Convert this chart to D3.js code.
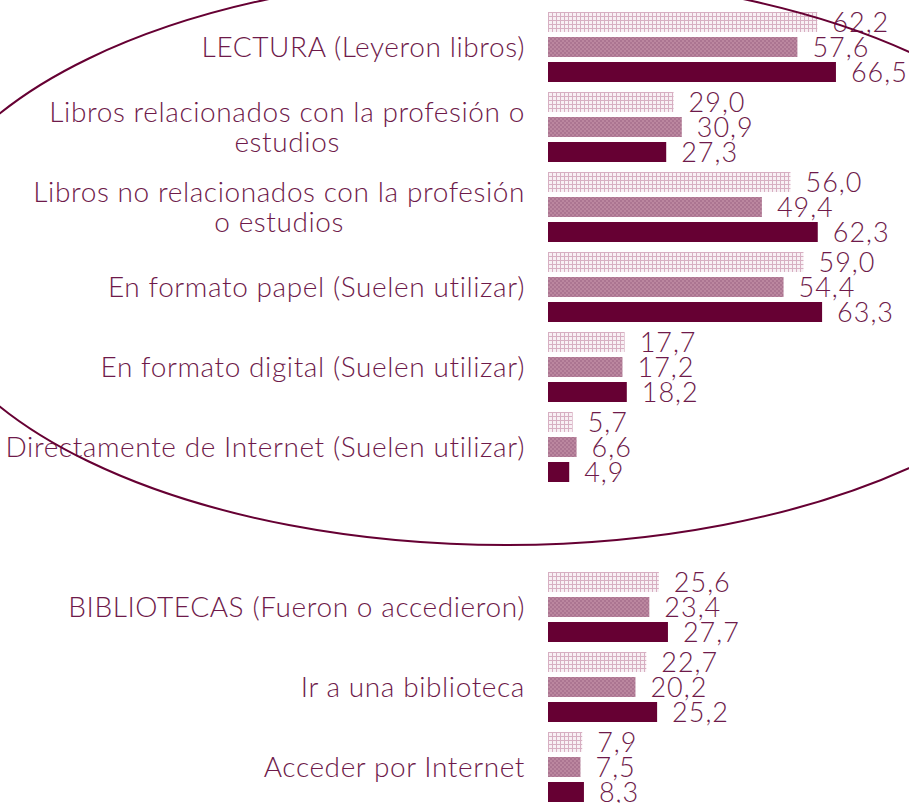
<!DOCTYPE html>
<html>
<head>
<meta charset="utf-8">
<script src="https://cdn.jsdelivr.net/npm/d3@7"></script>
<style>
    body { margin: 0; background: #fff; }
    #chart { width: 909px; height: 803px; }
    text { font-family: Lato, "Open Sans", sans-serif; font-weight: 300; }
</style>
</head>
<body>
<div id="chart"></div>
<script>
///// DATOS //////
// '' = hueco entre los dos bloques
let categorias = [
    'LECTURA (Leyeron libros)',
    'Libros relacionados con la profesión o\nestudios',
    'Libros no relacionados con la profesión\no estudios',
    'En formato papel (Suelen utilizar)',
    'En formato digital (Suelen utilizar)',
    'Directamente de Internet (Suelen utilizar)',
    '',
    'BIBLIOTECAS (Fueron o accedieron)',
    'Ir a una biblioteca',
    'Acceder por Internet'
];
let series = ['Total', 'Hombres', 'Mujeres'];
let valoresTotal   = [62.2, 29.0, 56.0, 59.0, 17.7, 5.7, null, 25.6, 22.7, 7.9];
let valoresHombres = [57.6, 30.9, 49.4, 54.4, 17.2, 6.6, null, 23.4, 20.2, 7.5];
let valoresMujeres = [66.5, 27.3, 62.3, 63.3, 18.2, 4.9, null, 27.7, 25.2, 8.3];

let colorTexto = '#6e1a4a', colorOscuro = '#660033';

let innerData = categorias.map(function(c, i) {
    return { cat: c, key: 'k' + i, valores: [valoresTotal[i], valoresHombres[i], valoresMujeres[i]] };
});

let chartBlock = d3.select('#chart');
let width = 909, height = 803;

let svg = chartBlock.append('svg')
    .attr('width', width)
    .attr('height', height);

//Tramas de las barras
let defs = svg.append('defs');
let pLight = defs.append('pattern')
    .attr('id', 'trama-clara')
    .attr('patternUnits', 'userSpaceOnUse')
    .attr('width', 4).attr('height', 4);
pLight.append('rect').attr('width', 4).attr('height', 4).attr('fill', '#f8f0f4');
pLight.append('rect').attr('width', 4).attr('height', 1).attr('fill', '#d7afc2');
pLight.append('rect').attr('width', 1).attr('height', 4).attr('fill', '#d7afc2');

let pMid = defs.append('pattern')
    .attr('id', 'trama-media')
    .attr('patternUnits', 'userSpaceOnUse')
    .attr('width', 4).attr('height', 4);
pMid.append('rect').attr('width', 4).attr('height', 4).attr('fill', '#bb879f');
pMid.append('rect').attr('width', 2).attr('height', 2).attr('fill', '#ab7591');
pMid.append('rect').attr('x', 2).attr('y', 2).attr('width', 2).attr('height', 2).attr('fill', '#ab7591');

let fills = ['url(#trama-clara)', 'url(#trama-media)', colorOscuro];

//Escalas
let y_c = d3.scaleBand()
    .domain(innerData.map(function(d) { return d.key; }))
    .range([12, 802])
    .paddingInner(0.125)
    .paddingOuter(0);

let y_s = d3.scaleBand()
    .domain(series)
    .range([0, y_c.bandwidth()])
    .paddingInner(0.2);

let x_c = d3.scaleLinear()
    .domain([0, 100])
    .range([548, 981]);

//Grupos
let grupos = svg.selectAll('.grupo')
    .data(innerData.filter(function(d) { return d.cat != ''; }))
    .enter()
    .append('g')
    .attr('class', 'grupo')
    .attr('transform', function(d) { return 'translate(0,' + y_c(d.key) + ')'; });

let barras = grupos.selectAll('.barra')
    .data(function(d) { return d.valores.map(function(v, i) { return { serie: series[i], valor: v, idx: i }; }); })
    .enter();

barras.append('rect')
    .attr('class', 'barra')
    .attr('x', x_c(0))
    .attr('y', function(d) { return y_s(d.serie); })
    .attr('width', function(d) { return x_c(d.valor) - x_c(0); })
    .attr('height', y_s.bandwidth())
    .attr('fill', function(d) { return fills[d.idx]; });

barras.append('text')
    .attr('x', function(d) { return x_c(d.valor) + 15; })
    .attr('y', function(d) { return y_s(d.serie) + y_s.bandwidth() / 2 + 10; })
    .attr('fill', colorTexto)
    .style('font-size', '27px')
    .style('letter-spacing', '1px')
    .text(function(d) { return d3.format('.1f')(d.valor).replace('.', ','); });

//Etiquetas de categoría
let labelRight = 525;
let centro = y_c.bandwidth() / 2;

grupos.each(function(d) {
    let g = d3.select(this);
    let lineas = d.cat.split('\n');
    let txt = g.append('text')
        .attr('fill', colorTexto)
        .style('font-size', '28px')
        .style('letter-spacing', '0.6px');

    if (lineas.length == 1) {
        txt.attr('text-anchor', 'end')
            .attr('x', labelRight)
            .attr('y', centro + 10)
            .text(lineas[0]);
    } else {
        let tspans = txt.selectAll('tspan')
            .data(lineas)
            .enter()
            .append('tspan')
            .attr('y', function(l, i) { return centro - 5 + i * 30; })
            .text(function(l) { return l; });
        let maxW = 0;
        tspans.each(function() { maxW = Math.max(maxW, this.getComputedTextLength()); });
        txt.attr('text-anchor', 'middle');
        tspans.attr('x', labelRight - maxW / 2);
    }
});

//Elipse que resalta el bloque de lectura
svg.append('ellipse')
    .attr('cx', 506)
    .attr('cy', 260)
    .attr('rx', 590)
    .attr('ry', 285)
    .attr('fill', 'none')
    .attr('stroke', colorOscuro)
    .attr('stroke-width', 2);
</script>
</body>
</html>
